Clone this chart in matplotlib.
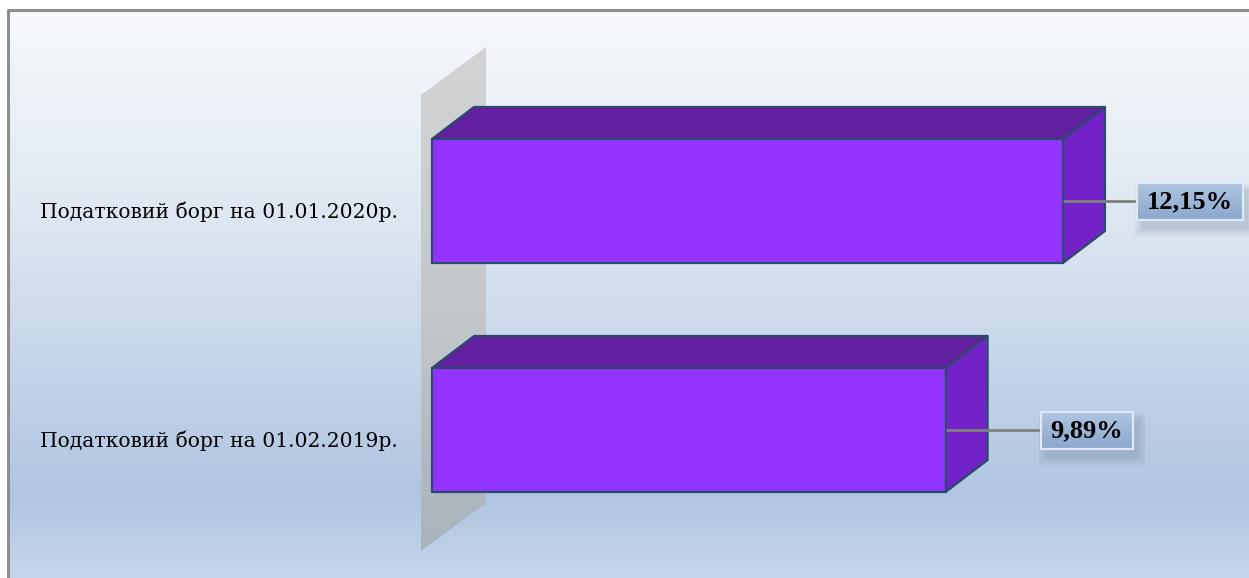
import numpy as np
import matplotlib
matplotlib.use('Agg')
import matplotlib.pyplot as plt
from matplotlib.patches import Polygon, Rectangle
from matplotlib.colors import LinearSegmentedColormap

# ---------------- data ----------------
categories = ['Податковий борг на 01.02.2019р.', 'Податковий борг на 01.01.2020р.']
values = [9.89, 12.15]
value_labels = ['9,89%', '12,15%']

# ---------------- layout / style ----------------
W, H = 1249, 578
PX_X = 51.93          # pixels per 1 %
X0_PX = 432           # pixel position of value 0
CAT_PX = 229          # pixels between categories
CAT0_PX = 148         # pixel (from bottom) of first category centre
BAR_HALF = 62 / CAT_PX
DEPTH_X = 42 / PX_X
DEPTH_Y = 32 / CAT_PX
label_gap_px = [95, 74]     # distance from bar end to label box

FRONT = '#9333ff'
TOP = '#621fa0'
SIDE = '#7222c8'
EDGE = '#2c4a6c'

fig = plt.figure(figsize=(W / 100, H / 100), dpi=100)
fig.patch.set_facecolor('white')
ax = fig.add_axes([0, 0, 1, 1])
ax.set_axis_off()
ax.set_xlim(-X0_PX / PX_X, (W - X0_PX) / PX_X)
ax.set_ylim(-CAT0_PX / CAT_PX, (H - CAT0_PX) / CAT_PX)

# background gradient (chart area starts at x=8px, y=10px from top)
bg_cmap = LinearSegmentedColormap.from_list(
    'bg', [(0.0, '#f7f9fc'), (0.35, '#dfe8f2'), (0.86, '#afc5e1'), (1.0, '#c4d6ea')])
grad = np.linspace(0, 1, 256).reshape(-1, 1)
ax.imshow(grad, cmap=bg_cmap, aspect='auto', transform=ax.transAxes,
          extent=(8 / W, 1, 0, 1 - 10 / H), origin='upper', zorder=0,
          interpolation='bicubic')
ax.plot([8 / W, 8 / W, 1], [0, 1 - 10 / H, 1 - 10 / H], transform=ax.transAxes,
        color='#8e8e8e', lw=2.2, zorder=1, solid_capstyle='butt')

# wall (parallelogram behind bars)
wx = -11 / PX_X
wy0 = (27 - CAT0_PX) / CAT_PX
wy1 = (H - 95 - CAT0_PX) / CAT_PX
wdx = 65 / PX_X
wdy = 48 / CAT_PX
wall = Polygon([(wx, wy0), (wx, wy1), (wx + wdx, wy1 + wdy), (wx + wdx, wy0 + wdy)],
               closed=True, facecolor='none', edgecolor='none')
ax.add_patch(wall)
wall_cmap = LinearSegmentedColormap.from_list('wall', ['#d3d4d4', '#c4c8cb', '#a7b3bb'])
wim = ax.imshow(grad, cmap=wall_cmap, aspect='auto', origin='upper',
                extent=(wx, wx + wdx, wy0, wy1 + wdy), zorder=2, interpolation='bicubic')
wim.set_clip_path(wall)

box_cmap = LinearSegmentedColormap.from_list('box', ['#b0c6e2', '#8ba8cd'])

# bars
for i, (cat, v, lab) in enumerate(zip(categories, values, value_labels)):
    y0, y1 = i - BAR_HALF, i + BAR_HALF
    front = Polygon([(0, y0), (0, y1), (v, y1), (v, y0)], closed=True,
                    facecolor=FRONT, edgecolor=EDGE, lw=1.6, zorder=5, joinstyle='round')
    top = Polygon([(0, y1), (DEPTH_X, y1 + DEPTH_Y), (v + DEPTH_X, y1 + DEPTH_Y), (v, y1)],
                  closed=True, facecolor=TOP, edgecolor=EDGE, lw=1.6, zorder=4, joinstyle='round')
    side = Polygon([(v, y0), (v, y1), (v + DEPTH_X, y1 + DEPTH_Y), (v + DEPTH_X, y0 + DEPTH_Y)],
                   closed=True, facecolor=SIDE, edgecolor=EDGE, lw=1.6, zorder=4, joinstyle='round')
    for p in (side, top, front):
        ax.add_patch(p)

    # category label
    ax.text(-34 / PX_X, i - 11 / CAT_PX, cat, ha='right', va='center',
            fontsize=14.6, family='DejaVu Serif', color='black', zorder=6)

    # value label box
    gap = label_gap_px[i] / PX_X
    bx0 = v + gap
    t = ax.text(bx0 + 10 / PX_X, i - 1 / CAT_PX, lab, ha='left', va='center', fontsize=19,
                family='Liberation Serif', fontweight='bold', color='black', zorder=10)
    fig.canvas.draw()
    bb = t.get_window_extent().transformed(ax.transData.inverted())
    bw = (bb.x1 - bx0) + 10 / PX_X
    bh = 37 / CAT_PX
    by0 = i - bh / 2
    # leader line
    ax.plot([v, bx0], [i, i], color='#808080', lw=2, zorder=6, solid_capstyle='butt')
    # soft shadow
    for k in range(6):
        e = k * 1.6
        ax.add_patch(Rectangle((bx0 + (5 - e) / PX_X, by0 - (9 + e) / CAT_PX),
                               bw + 2 * e / PX_X, bh + 2 * e / CAT_PX,
                               facecolor='#6d7f99', edgecolor='none', alpha=0.055, zorder=7))
    # gradient box
    ax.imshow(grad, cmap=box_cmap, aspect='auto', origin='upper',
              extent=(bx0, bx0 + bw, by0, by0 + bh), zorder=8, interpolation='bicubic')
    ax.add_patch(Rectangle((bx0, by0), bw, bh, facecolor='none', edgecolor='#dfe8f3',
                           lw=1.6, zorder=9))

ax.set_xlim(-X0_PX / PX_X, (W - X0_PX) / PX_X)
ax.set_ylim(-CAT0_PX / CAT_PX, (H - CAT0_PX) / CAT_PX)
fig.savefig('out.png', dpi=100)
